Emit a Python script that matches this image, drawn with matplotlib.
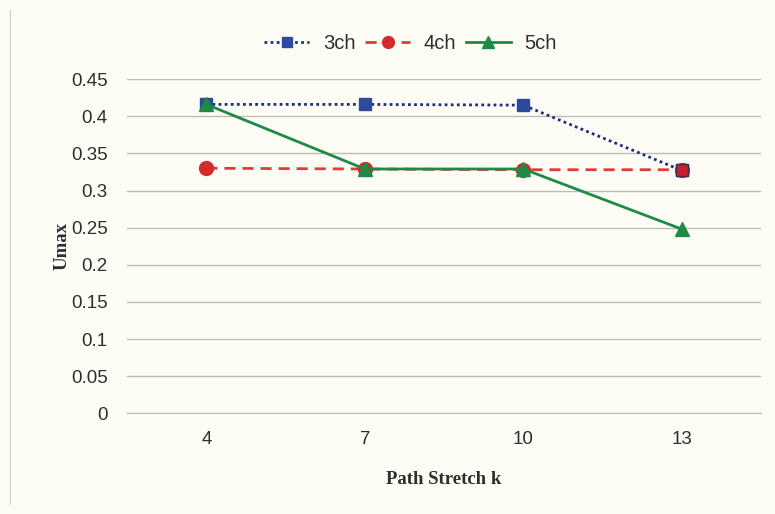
import matplotlib
matplotlib.use("Agg")
import matplotlib.pyplot as plt

# ---------------------------------------------------------------------------
# Data
# ---------------------------------------------------------------------------
k_labels = ["4", "7", "10", "13"]
umax_3ch = [0.416, 0.416, 0.415, 0.327]
umax_4ch = [0.330, 0.329, 0.328, 0.328]
umax_5ch = [0.416, 0.329, 0.329, 0.248]
y_ticks = [0, 0.05, 0.1, 0.15, 0.2, 0.25, 0.3, 0.35, 0.4, 0.45]

BG = "#fdfdf6"
TXT = "#2e2e2e"

fig = plt.figure(figsize=(7.75, 5.14), dpi=100, facecolor=BG)
ax = fig.add_axes([0.164, 0.196, 0.818, 0.650], facecolor=BG)

x = list(range(len(k_labels)))
ax.plot(x, umax_3ch, color="#1f2f7a", linestyle=(0, (1, 1.2)), linewidth=2,
        marker="s", markersize=9, markerfacecolor="#2d4a9e",
        markeredgecolor="#2d4a9e", label="3ch", zorder=3)
ax.plot(x, umax_4ch, color="#e03a3a", linestyle=(0, (4, 2.5)), linewidth=2,
        marker="o", markersize=10, markerfacecolor="#d42a2a",
        markeredgecolor="#d42a2a", label="4ch", zorder=2)
ax.plot(x, umax_5ch, color="#1e8a46", linestyle="-", linewidth=2,
        marker="^", markersize=10, markerfacecolor="#1e8a46",
        markeredgecolor="#1e8a46", label="5ch", zorder=4)
# the last 3ch square shows a red fill in the scan
ax.plot(x[-1:], umax_3ch[-1:], linestyle="none", marker="s", markersize=9,
        markerfacecolor="#c8202a", markeredgecolor="#4a2a50", zorder=5)

ax.set_xlim(-0.5, len(k_labels) - 0.5)
ax.set_ylim(0, 0.45)
ax.set_xticks(x)
ax.set_xticklabels(k_labels)
ax.set_yticks(y_ticks)
ax.set_yticklabels([f"{t:g}" for t in y_ticks])
ax.tick_params(axis="both", length=0, labelsize=13.5, colors=TXT)
ax.tick_params(axis="x", pad=13)
ax.tick_params(axis="y", pad=14)
for lbl in ax.get_xticklabels() + ax.get_yticklabels():
    lbl.set_family(["Liberation Sans", "DejaVu Sans"])

ax.grid(axis="y", color="#bdbdb5", linewidth=1)
ax.set_axisbelow(True)
for side in ["top", "right", "left"]:
    ax.spines[side].set_visible(False)
ax.spines["bottom"].set_color("#bdbdb5")

ax.set_xlabel("Path Stretch k", fontsize=13.5, fontweight="bold",
              family="Liberation Serif", color=TXT, labelpad=16)
ax.set_ylabel("Umax", fontsize=13.5, fontweight="bold",
              family="Liberation Serif", color=TXT, labelpad=0)

leg = fig.legend(loc="center", bbox_to_anchor=(0.53, 0.916), ncol=3,
                 frameon=False, fontsize=14.5, handlelength=2.2,
                 handletextpad=0.7, columnspacing=0.5, markerscale=0.85)
for t in leg.get_texts():
    t.set_color(TXT)
    t.set_family(["Liberation Sans", "DejaVu Sans"])

# faint page border on the left, as in the scan
fig.add_artist(plt.Line2D([0.013, 0.013], [0.02, 0.98], color="#d0d0c8",
                          linewidth=0.8, transform=fig.transFigure))

fig.savefig("out.png", dpi=100, facecolor=BG)
